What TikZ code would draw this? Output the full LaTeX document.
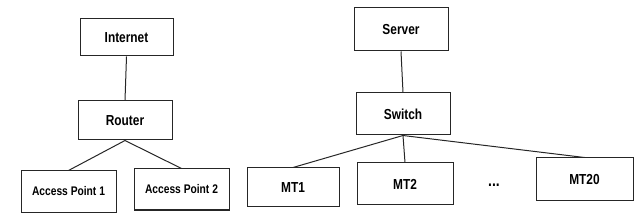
\documentclass[tikz,border=0pt]{standalone}
\usepackage{fontspec}
\setmainfont{Liberation Sans}[FakeStretch=0.82]
\begin{document}
\begin{tikzpicture}[x=1pt,y=-1pt,
  box/.style={draw=black!85,line width=1pt,rectangle,inner sep=0pt,font=\fontsize{14.5}{16}\selectfont\bfseries},
  apbox/.style={box,font=\fontsize{12.5}{14}\selectfont\bfseries},
  link/.style={draw=black!85,line width=1pt}]
\useasboundingbox (0,0) rectangle (636,221);
\node[box,minimum width=93pt,minimum height=37pt] (internet) at (126.5,37.5) {Internet};
\node[box,minimum width=94pt,minimum height=39pt] (router) at (125,120.5) {Router};
\node[apbox,minimum width=95pt,minimum height=41pt] (ap1) at (68.5,191.5) {Access Point 1};
\node[apbox,minimum width=95pt,minimum height=41pt] (ap2) at (181.5,189.5) {Access Point 2};
\node[box,minimum width=94pt,minimum height=43pt] (server) at (401,29.5) {Server};
\node[box,minimum width=94pt,minimum height=42pt] (switch) at (403,114) {Switch};
\node[box,minimum width=92pt,minimum height=39pt] (mt1) at (293,187.5) {MT1};
\node[box,minimum width=96pt,minimum height=42pt] (mt2) at (405,184) {MT2};
\node[box,minimum width=97pt,minimum height=43pt] (mt20) at (584.5,179.5) {MT20};
\node[font=\fontsize{17}{18}\selectfont\bfseries] (dots) at (494,185) {...};
\draw[link] (internet.south) -- (router.north);
\draw[link] (router.south) -- (ap1.north);
\draw[link] (router.south) -- (ap2.north);
\draw[link] (server.south) -- (switch.north);
\draw[link] (switch.south) -- (mt1.north);
\draw[link] (switch.south) -- (mt2.north);
\draw[link] (switch.south) -- (mt20.north);
\end{tikzpicture}
\end{document}
